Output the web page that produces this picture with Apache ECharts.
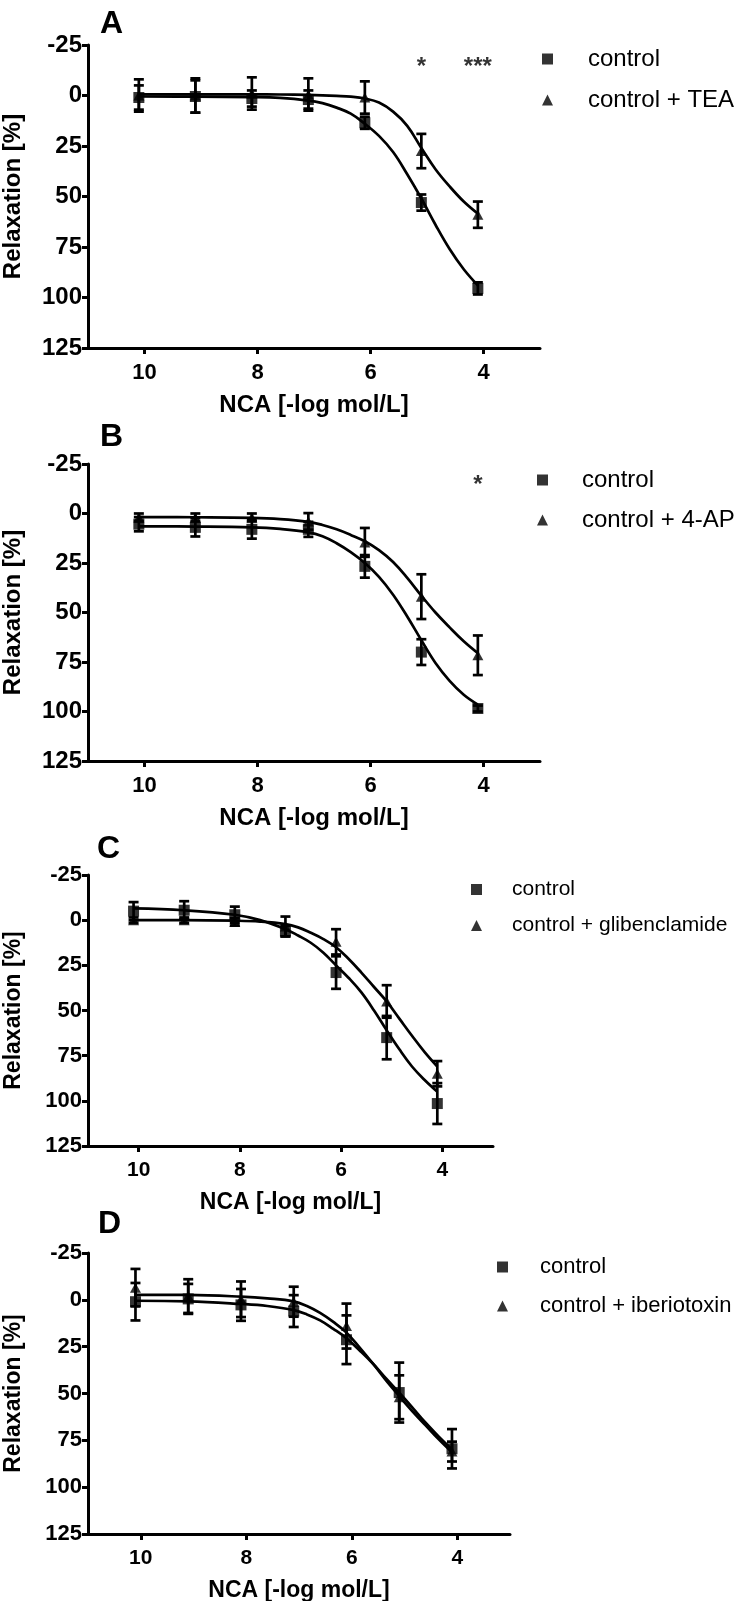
<!DOCTYPE html>
<html>
<head>
<meta charset="utf-8">
<script src="https://cdn.jsdelivr.net/npm/echarts@6/dist/echarts.min.js"></script>
<style>html,body{margin:0;padding:0;background:#fff}#c{width:738px;height:1601px}</style>
</head>
<body>
<div id="c"></div>
<script>
// ---- data ----
const xPts = [10.1, 9.1, 8.1, 7.1, 6.1, 5.1, 4.1];
const xFit = [10.1, 9.1, 8.1, 7.6, 7.1, 6.85, 6.6, 6.35, 6.1, 5.85, 5.6, 5.35, 5.1, 4.85, 4.6, 4.35, 4.1];
const xTicks = [10, 8, 6, 4];
const panelLetters = ['A', 'B', 'C', 'D'];
const treatNames = ['control + TEA', 'control + 4-AP', 'control + glibenclamide', 'control + iberiotoxin'];

// Panel A
const aCtrl = [1, 0.5, 1.5, 2, 13.5, 53, 95.5];
const aCtrlErr = [6, 8, 4, 4.5, 3, 4, 3];
const aTreat = [0, 0, -1, -0.5, 1, 27.5, 59];
const aTreatErr = [8, 8.5, 8, 8, 8, 8.5, 6.5];
const aCtrlFit = [0.5, 0.6, 0.8, 1.2, 2.5, 3.8, 6, 9, 14, 20, 28, 39, 51, 64, 76, 86, 94];
const aTreatFit = [-0.6, -0.6, -0.6, -0.5, -0.3, -0.1, 0.2, 0.6, 1.5, 3.5, 8, 15, 26, 36.5, 45, 52.5, 58.5];
// Panel B
const bCtrl = [5.4, 7, 8, 8, 26.7, 70, 98.5];
const bCtrlErr = [3.6, 4.6, 4.7, 3.8, 5.7, 6.5, 1.5];
const bTreat = [2, 2, 2, 4, 14.6, 42, 71.6];
const bTreatErr = [2, 2, 2, 4.2, 7.3, 11.3, 10];
const bCtrlFit = [6.5, 6.6, 7, 7.8, 9.5, 11.5, 15, 19.5, 25, 32, 41, 52, 64, 75.5, 84.5, 91.5, 96.5];
const bTreatFit = [1.8, 1.9, 2.2, 2.8, 4.2, 5.8, 8, 10.8, 14, 18.5, 24.5, 32.5, 41.5, 50, 57.5, 64.5, 70.5];
// Panel C
const cCtrl = [-5, -5.5, -3, 6, 29, 65, 101.5];
const cCtrlErr = [5, 5, 4.5, 3, 9, 12, 11.3];
const cTreat = [0, 0, 1, 3.5, 12, 45, 85];
const cTreatErr = [1.5, 1.5, 2, 5.5, 7, 9, 7];
const cCtrlFit = [-6.5, -5.5, -3, 0, 5, 8.5, 12.5, 18, 25, 32, 40, 50, 61, 71.5, 81, 88.5, 95];
const cTreatFit = [0, 0, 0.3, 0.8, 2.2, 4, 7, 10.5, 15, 21.5, 29, 37, 45, 54.5, 64, 73, 81];
// Panel D
const dCtrl = [1, -0.5, 2.7, 6, 21.3, 49.5, 79.5];
const dCtrlErr = [10, 8, 8.5, 8.5, 13, 16, 10.5];
const dTreat = [-6.5, -2, -0.3, 1, 14, 52, 81];
const dTreatErr = [10, 9, 9.5, 8, 12, 11.7, 5.3];
const dCtrlFit = [0.5, 0.8, 2.2, 3.3, 5.5, 7.8, 11, 15.5, 20.5, 27, 34, 42, 49.6, 57.5, 65.6, 73, 79.8];
const dTreatFit = [-2.7, -2.6, -1.7, -0.8, 0.8, 3.3, 7, 11.8, 17.5, 25.5, 34, 43, 51.4, 59.5, 67, 74.5, 81.4];

// significance annotations: [panel, x, y, text]
const stars = [[0, 5.1, -14, '*'], [0, 4.1, -14, '***'], [1, 4.1, -14, '*']];

// ---- layout ----
const FONT = '"Liberation Sans", Arial, Helvetica, sans-serif';
const grids = [
  {left: 88, top: 45, width: 452, height: 303},
  {left: 88, top: 464, width: 452, height: 297},
  {left: 88, top: 875, width: 405, height: 271},
  {left: 88, top: 1253, width: 422, height: 281}
].map(g => Object.assign(g, {containLabel: false, outerBoundsMode: 'none'}));
const yTickFont = [24, 24, 22, 22];
const xTickFont = [22, 22, 21, 21];
const nameFont = [24, 24, 23, 23];
const legendCfg = [
  {left: 537, top: 42, gap: 17, font: 24, pad: 30},
  {left: 532, top: 463, gap: 16, font: 24, pad: 29},
  {left: 466, top: 874, gap: 15, font: 21, pad: 25},
  {left: 492, top: 1251, gap: 17, font: 22, pad: 27}
];
const letterPos = [[100, 8], [100, 421], [97, 833], [98, 1208]];

const panels = [
  [aCtrl, aCtrlErr, aTreat, aTreatErr, aCtrlFit, aTreatFit],
  [bCtrl, bCtrlErr, bTreat, bTreatErr, bCtrlFit, bTreatFit],
  [cCtrl, cCtrlErr, cTreat, cTreatErr, cCtrlFit, cTreatFit],
  [dCtrl, dCtrlErr, dTreat, dTreatErr, dCtrlFit, dTreatFit]
];

function errRender(params, api) {
  const x = api.value(0), y = api.value(1), e = api.value(2);
  const p0 = api.coord([x, y - e]), p1 = api.coord([x, y + e]);
  const hw = 5;
  const st = {stroke: '#000', lineWidth: 2.7};
  return {type: 'group', children: [
    {type: 'line', shape: {x1: p0[0], y1: p0[1], x2: p1[0], y2: p1[1]}, style: st},
    {type: 'line', shape: {x1: p0[0] - hw, y1: p0[1], x2: p0[0] + hw, y2: p0[1]}, style: st},
    {type: 'line', shape: {x1: p1[0] - hw, y1: p1[1], x2: p1[0] + hw, y2: p1[1]}, style: st}
  ]};
}

const xAxes = [], yAxes = [], series = [], legends = [], titles = [];
grids.forEach((g, i) => {
  xAxes.push({
    type: 'value', gridIndex: i, min: 3, max: 11, inverse: true,
    axisLine: {show: true, onZero: false, lineStyle: {color: '#000', width: 3}},
    axisTick: {show: true, customValues: xTicks, length: 6, lineStyle: {color: '#000', width: 3}},
    axisLabel: {customValues: xTicks, fontSize: xTickFont[i], fontWeight: 'bold', color: '#000', fontFamily: FONT, margin: 14},
    splitLine: {show: false},
    name: 'NCA [-log mol/L]', nameLocation: 'middle', nameGap: 45,
    nameTextStyle: {fontSize: nameFont[i], fontWeight: 'bold', color: '#000', fontFamily: FONT}
  });
  yAxes.push({
    type: 'value', gridIndex: i, min: -25, max: 125, interval: 25, inverse: true,
    axisLine: {show: true, onZero: false, lineStyle: {color: '#000', width: 3}},
    axisTick: {show: true, length: 6, lineStyle: {color: '#000', width: 3}},
    axisLabel: {fontSize: yTickFont[i], fontWeight: 'bold', color: '#000', fontFamily: FONT, margin: 6},
    splitLine: {show: false},
    name: 'Relaxation [%]', nameLocation: 'middle', nameGap: 63, nameRotate: 90,
    nameMoveOverlap: false,
    nameTextStyle: {fontSize: nameFont[i], fontWeight: 'bold', color: '#000', fontFamily: FONT}
  });
  const [ctrl, ctrlErr, tr, trErr, ctrlFit, trFit] = panels[i];
  const fitStyle = {type: 'line', xAxisIndex: i, yAxisIndex: i, smooth: 0.4, symbol: 'none',
    lineStyle: {color: '#000', width: 2.7}, silent: true, z: 2};
  series.push(Object.assign({name: 'fit ctrl ' + i, data: xFit.map((x, k) => [x, ctrlFit[k]])}, fitStyle));
  series.push(Object.assign({name: 'fit treat ' + i, data: xFit.map((x, k) => [x, trFit[k]])}, fitStyle));
  series.push({type: 'custom', name: 'err ctrl ' + i, xAxisIndex: i, yAxisIndex: i, renderItem: errRender,
    data: xPts.map((x, k) => [x, ctrl[k], ctrlErr[k]]), z: 3, silent: true});
  series.push({type: 'custom', name: 'err treat ' + i, xAxisIndex: i, yAxisIndex: i, renderItem: errRender,
    data: xPts.map((x, k) => [x, tr[k], trErr[k]]), z: 3, silent: true});
  series.push({type: 'scatter', name: 'control', xAxisIndex: i, yAxisIndex: i, symbol: 'rect', symbolSize: 11,
    itemStyle: {color: '#000'}, data: xPts.map((x, k) => [x, ctrl[k]]), z: 4});
  series.push({type: 'scatter', name: treatNames[i], xAxisIndex: i, yAxisIndex: i, symbol: 'triangle', symbolSize: [11, 10],
    itemStyle: {color: '#000'}, data: xPts.map((x, k) => [x, tr[k]]), z: 4});
  const sd = stars.filter(s => s[0] === i).map(s => ({value: [s[1], s[2]], label: {formatter: s[3]}}));
  if (sd.length) {
    series.push({type: 'scatter', name: 'stars ' + i, xAxisIndex: i, yAxisIndex: i, symbolSize: 1,
      itemStyle: {color: 'rgba(0,0,0,0)'}, silent: true, z: 5,
      label: {show: true, position: 'inside', fontSize: 24, fontWeight: 'bold', color: '#000', fontFamily: FONT},
      data: sd});
  }
  const L = legendCfg[i];
  legends.push({
    orient: 'vertical', left: L.left, top: L.top, itemWidth: 11, itemHeight: 11, itemGap: L.gap,
    selectedMode: false,
    data: [{name: 'control', icon: 'rect'}, {name: treatNames[i], icon: 'triangle'}],
    textStyle: {fontSize: L.font, color: '#000', fontFamily: FONT, padding: [0, 0, 0, L.pad]}
  });
  titles.push({text: panelLetters[i], left: letterPos[i][0], top: letterPos[i][1], padding: 0,
    textStyle: {fontSize: 32, fontWeight: 'bold', color: '#000', fontFamily: FONT}});
});

const chart = echarts.init(document.getElementById('c'), null, {renderer: 'canvas'});
chart.setOption({
  animation: false,
  backgroundColor: '#fff',
  title: titles,
  legend: legends,
  grid: grids,
  xAxis: xAxes,
  yAxis: yAxes,
  series: series
});
</script>
</body>
</html>
